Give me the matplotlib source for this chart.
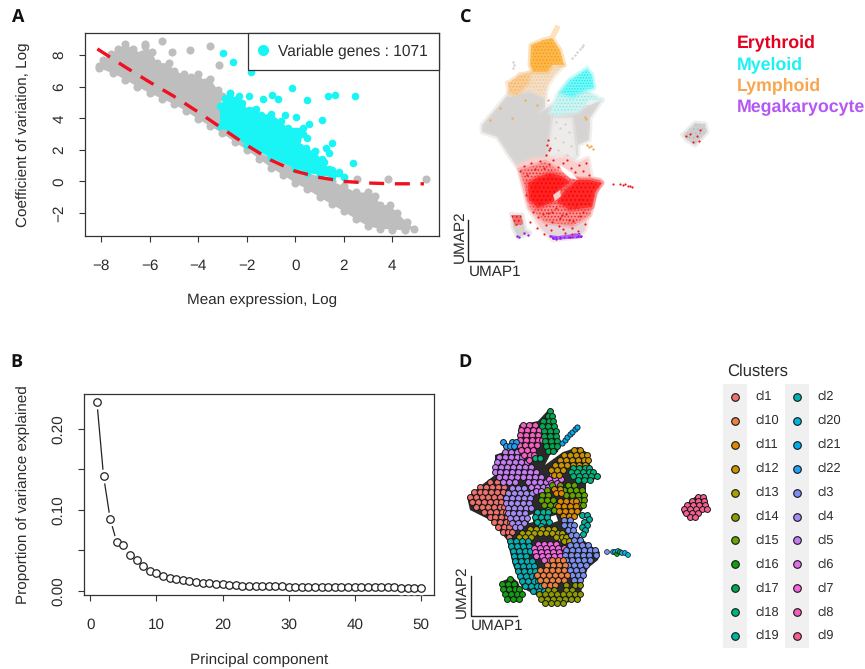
import matplotlib
matplotlib.use('Agg')
import matplotlib.pyplot as plt
from matplotlib.lines import Line2D

plt.rcParams['font.family'] = ['Liberation Sans', 'DejaVu Sans']
plt.rcParams['hatch.linewidth'] = 0.7
plt.rcParams['text.hinting'] = 'none'

W, H = 865, 669
TXT = '#2b2b2b'

# panel A, mean expression vs coefficient of variation
gray_outline_x = [-8.1, -7.9, -7.6, -7.3, -7.0, -6.7, -6.3, -6.2, -5.9, -5.7, -5.2, -5.0, -4.6, -4.3, -4.0, -3.7, -3.5,
                  -3.2, -3.0, -3.1, -2.0, -1.0, 0.0, 1.0, 1.5, 2.0, 2.5, 3.0, 3.3, 3.5, 3.9, 4.2, 4.6, 4.9,
                  4.5, 4.0, 3.5, 3.0, 2.5, 2.0, 1.5, 1.0, 0.5, 0.0, -0.5, -1.0, -1.5, -2.0, -2.5, -3.0, -3.5, -4.0,
                  -4.5, -5.0, -5.5, -6.0, -6.5, -7.0, -7.5, -8.1]
gray_outline_y = [7.3, 7.7, 8.1, 8.4, 8.7, 8.4, 8.1, 8.6, 8.2, 7.5, 7.5, 7.0, 6.8, 6.6, 6.8, 6.3, 6.5,
                  5.8, 5.4, 4.5, 2.2, 1.5, 0.8, 0.3, 0.0, -0.3, -0.7, -0.7, -0.9, -1.5, -1.5, -2.0, -2.6, -3.0,
                  -3.1, -3.05, -3.0, -2.85, -2.4, -1.9, -1.45, -1.0, -0.5, -0.1, 0.4, 0.87, 1.45, 2.0, 2.5, 3.05, 3.5, 3.95,
                  4.45, 4.9, 5.25, 5.6, 6.0, 6.45, 6.85, 7.2]
gray_extra_x = [-6.2, -5.47, -5.07, -4.33, -3.51, -3.15, 2.55, 3.8, 5.37]
gray_extra_y = [8.7, 8.93, 8.23, 8.34, 8.59, 7.38, 0.14, 0.15, 0.15]
cyan_outline_x = [-3.1, -3.1, -2.9, -2.7, -2.4, -2.2, -1.9, -1.6, -1.4, -1.0, -0.6, -0.3, 0.3, 0.3, 0.2, 0.8, 1.2, 1.4,
                  1.8, 2.0, 1.5, 1.0, 0.5, 0.0, -1.0, -2.0]
cyan_outline_y = [3.5, 4.8, 5.3, 5.6, 5.2, 5.0, 4.5, 4.6, 4.2, 4.3, 3.8, 3.4, 3.4, 3.0, 2.2, 1.9, 1.2, 0.8,
                  0.6, 0.3, 0.25, 0.4, 0.55, 0.8, 1.5, 2.3]
cyan_extra_x = [-2.99, -2.56, -1.82, -0.15, 0.5, 1.33, 1.63, 2.46, -1.92, -1.34, -0.94, -0.7, -0.42, 0.03, 1.1, 0.55,
                0.5, 0.2, 1.5, 1.4, 1.27, 2.37, 2.0, 1.75, 1.5, 0.8, 0.45, 1.1, -1.7, -2.3, -2.7, -2.25]
cyan_extra_y = [8.13, 7.55, 6.96, 5.93, 5.17, 5.44, 5.5, 5.4, 5.44, 5.2, 5.45, 5.2, 4.2, 4.07, 3.88, 3.65,
                2.75, 3.05, 2.46, 1.82, 2.1, 1.17, 0.3, 0.55, 0.7, 1.95, 2.1, 1.4, 4.5, 5.4, 5.6, 5.0]
trend_x = [-8.15, -7, -6, -5, -4, -3, -2, -1, 0, 1, 2, 3, 4, 5.3]
trend_y = [8.4, 7.25, 6.3, 5.4, 4.4, 3.35, 2.3, 1.35, 0.65, 0.25, 0.0, -0.1, -0.15, -0.15]

# panel B, elbow plot
pc_values = [0.2335, 0.142, 0.089, 0.060, 0.0565, 0.0437, 0.0375, 0.0305, 0.0248, 0.0215,
             0.018, 0.0157, 0.014, 0.0128, 0.0116, 0.0107, 0.0099, 0.0091, 0.0083, 0.0078,
             0.0072, 0.0066, 0.0064, 0.0062, 0.006, 0.0058, 0.0056, 0.0054, 0.0052, 0.005,
             0.0049, 0.0048, 0.0047, 0.0046, 0.0045, 0.0045, 0.0044, 0.0044, 0.0043, 0.0043,
             0.0042, 0.0042, 0.0041, 0.0041, 0.004, 0.004, 0.0039, 0.0039, 0.0038, 0.0038]

# panel C, regions of the embedding (picture coordinates)
c_gray = [(509, 93), (530, 88), (545, 95), (545, 108), (540, 112), (552, 105), (590, 105), (602, 100), (590, 118),
          (590, 128), (589, 140), (578, 145), (578, 155), (572, 158), (560, 150), (548, 160), (530, 168), (518, 168),
          (510, 157), (497, 137), (482, 132), (482, 125), (495, 110)]
c_sparse = [(553, 118), (572, 118), (576, 150), (576, 160), (560, 155), (548, 160), (550, 140)]
c_orange_top = [(557, 28), (552, 38), (560, 50), (564, 65), (553, 65), (547, 72), (533, 72), (530, 65), (531, 45),
                (543, 40), (552, 38)]
c_orange_mid = [(520, 75), (547, 68), (564, 65), (555, 75), (548, 85), (545, 97), (530, 90), (509, 95)]
c_orange_low = [(508, 83), (520, 75), (530, 73), (528, 83), (517, 95), (509, 92)]
c_cyan_soft = [(602, 100), (590, 100), (578, 112), (557, 115), (550, 113), (557, 95), (570, 80)]
c_cyan = [(587, 69), (592, 75), (594, 88), (586, 90), (572, 97), (560, 93), (570, 80), (582, 72)]
c_red_soft = [(518, 165), (533, 158), (557, 158), (565, 157), (577, 163), (588, 158), (590, 170), (592, 178),
              (602, 182), (597, 190), (593, 200), (587, 220), (585, 230), (578, 237), (553, 240), (540, 227),
              (528, 207), (522, 183)]
c_red_mid = [(520, 170), (545, 162), (572, 178), (600, 180), (595, 195), (590, 215), (572, 226), (545, 222), (530, 208)]
c_red_a = [(528, 183), (538, 177), (550, 173), (561, 176), (570, 182), (560, 190), (553, 202), (538, 208), (529, 200)]
c_red_b = [(577, 180), (590, 180), (602, 183), (595, 192), (592, 207), (570, 210), (557, 202), (565, 190)]
c_white_hole = [(560, 165), (572, 173), (578, 180), (570, 178), (562, 171)]
c_white_hole2 = [(553, 195), (560, 190), (561, 196), (555, 201)]
c_pale_bottom = [(540, 227), (560, 222), (585, 222), (585, 230), (578, 237), (553, 240)]
c_purple = [(550, 235), (558, 236), (580, 233), (582, 238), (553, 240)]
c_island_low = [(512, 215), (522, 215), (525, 230), (530, 233), (518, 237), (513, 227)]
c_island_red = [(511, 215), (521, 215), (523, 224), (515, 226)]
c_island_right = [(683, 135), (695, 123), (705, 124), (707, 132), (695, 145), (687, 140)]
c_red_dots_x = [613, 620, 623, 625, 628, 630, 632, 548, 547, 549, 546, 550, 690, 697, 700, 693, 699, 686,
                520, 524, 527, 531, 535, 540, 544, 549, 553, 558, 563, 567, 571, 575, 579, 583, 586, 589,
                526, 533, 538, 546, 552, 560, 566, 573, 580, 585, 530, 537, 543, 551, 559, 565, 572, 578, 583,
                535, 541, 548, 556, 562, 569, 576, 581, 544, 552, 563, 572]
c_red_dots_y = [184, 184, 185, 184, 186, 186, 187, 140, 145, 150, 155, 148, 134, 136, 130, 142, 141, 136,
                171, 166, 175, 163, 169, 161, 168, 164, 160, 167, 163, 160, 168, 172, 165, 171, 163, 175,
                195, 212, 217, 225, 212, 218, 214, 221, 216, 224, 222, 228, 214, 230, 226, 233, 228, 231, 212,
                186, 203, 213, 208, 215, 220, 206, 199, 234, 222, 229, 234]
c_gray_dots_x = [572, 575, 577, 580, 582, 583, 513, 514, 513, 556, 560, 565, 569, 555, 563, 571, 558, 567]
c_gray_dots_y = [58, 55, 52, 49, 47, 45, 62, 65, 68, 122, 128, 124, 132, 138, 142, 146, 150, 155]
c_orange_dots_x = [587, 589, 591, 593, 585, 586, 490, 500, 512, 525, 537, 548]
c_orange_dots_y = [145, 147, 146, 149, 117, 119, 120, 108, 118, 100, 105, 100]
c_purple_dots_x = [517, 519, 524, 528, 550, 553, 556, 560, 570, 578, 581]
c_purple_dots_y = [236, 237, 233, 235, 236, 238, 239, 238, 237, 236, 236]
lineage_names = ['Erythroid', 'Myeloid', 'Lymphoid', 'Megakaryocyte']
lineage_colors = ['#E4001E', '#1DF2F2', '#F9A650', '#B458F5']

# panel D, clusters
cluster_names = ['cl1', 'cl10', 'cl11', 'cl12', 'cl13', 'cl14', 'cl15', 'cl16', 'cl17', 'cl18', 'cl19',
                 'cl2', 'cl20', 'cl21', 'cl22', 'cl3', 'cl4', 'cl5', 'cl6', 'cl7', 'cl8', 'cl9']
cluster_colors = ['#F0706A', '#EE8042', '#DD8A00', '#CC9500', '#AAA000', '#8F9B00', '#64A500', '#10A010', '#00A850',
                  '#00B57A', '#00B5A0', '#00B0B5', '#00B8DC', '#00ACF0', '#20A0F8', '#7B8FF0', '#A58AF5', '#C77CF5',
                  '#E36EF0', '#F564E3', '#F55FC0', '#F5608F']
d_silhouette = [(550, 408), (553, 420), (560, 440), (558, 452), (550, 455), (545, 465), (563, 452), (578, 447), (588, 453),
                (590, 465), (598, 478), (586, 483), (586, 505), (578, 516), (572, 518), (575, 533), (587, 543), (600, 552),
                (598, 560), (588, 568), (583, 582), (580, 600), (550, 606), (538, 596), (522, 588), (513, 565), (507, 540),
                (490, 520), (470, 510), (467, 497), (483, 484), (495, 475), (495, 455), (517, 447), (519, 425), (538, 421)]
d_island = [(683, 507), (697, 495), (707, 498), (708, 507), (698, 515), (690, 520), (682, 513)]
d_left = [(500, 582), (512, 577), (518, 582), (523, 595), (517, 602), (505, 598)]
d_holes = [[(549, 517), (556, 515), (558, 521), (552, 523)], [(528, 516), (533, 514), (533, 522), (529, 523)],
           [(556, 538), (562, 537), (560, 541)]]
# dots of each cluster, as rows: y, then the x of the dots on that row
cluster_rows = {
    'cl1': [(482, [490, 497]), (487, [480, 486, 492, 498, 504]), (492, [474, 480, 485, 491, 497, 503]),
            (497, [470, 476, 482, 488, 494, 500]), (502, [472, 478, 484, 490, 496, 501]),
            (507, [476, 482, 488, 494, 500, 504]), (512, [484, 490, 496, 502, 506]), (517, [490, 495, 501, 507]),
            (522, [494, 500, 506, 510]), (527, [498, 504, 509]), (532, [503, 508, 512]), (537, [509])],
    'cl4': [(488, [512, 518, 524]), (493, [508, 514, 520, 526, 532]), (498, [506, 512, 518, 524, 530]),
            (503, [506, 511, 517, 523, 529]), (508, [508, 514, 520, 526, 531]), (513, [508, 513, 519, 525]),
            (518, [510, 516, 522, 527]), (523, [512, 518, 524]), (527, [515, 520])],
    'cl5': [(452, [505, 511, 517]), (457, [499, 505, 511, 517, 522]), (462, [497, 503, 509, 515, 521, 527]),
            (467, [495, 501, 507, 513, 519, 525, 531]), (472, [495, 500, 506, 512, 518, 524, 530, 536]),
            (477, [499, 505, 511, 517, 523, 529, 535, 541]), (482, [503, 509, 515, 528, 534, 540, 546]),
            (487, [531, 537, 543, 548]), (491, [536, 541])],
    'cl6': [(475, [552, 558]), (479, [549, 555, 561]), (483, [551, 557])],
    'cl8': [(425, [523, 529, 535]), (430, [521, 527, 533, 539]), (435, [520, 526, 532, 538]),
            (440, [520, 526, 532, 538, 542]), (445, [519, 525, 531, 537]), (450, [521, 527, 533]),
            (455, [524, 530, 534]), (460, [529])],
    'cl17': [(411, [550]), (416, [548, 552]), (421, [543, 549, 553]), (426, [542, 548, 554]), (431, [544, 550, 556]),
             (436, [544, 550, 556]), (441, [545, 551, 557]), (446, [546, 552, 557]), (451, [548, 553])],
    'cl22': [(442, [503, 512, 516]), (446, [506, 510, 514])],
    'cl12': [(450, [574, 580]), (455, [564, 570, 576, 582, 587]), (460, [560, 566, 572, 578, 584, 588]),
             (465, [555, 561, 567, 573, 579, 585]), (470, [551, 557, 563]), (475, [554, 559])],
    'cl18': [(468, [573, 579, 585, 589]), (472, [571, 577, 583, 589, 593]), (476, [573, 579, 585, 591, 597]),
             (480, [578, 584, 590]), (458, [535, 540])],
    'cl15': [(485, [552, 560, 568, 574]), (490, [547, 564, 570, 576, 582]), (495, [542, 548, 566, 572, 578, 584]),
             (500, [541, 547, 553, 579, 584]), (505, [544, 550, 556, 580, 583]), (510, [548, 554, 577])],
    'cl11': [(501, [560, 566, 572, 576]), (506, [558, 564, 570, 576]), (511, [559, 565, 571, 577]),
             (516, [563, 569, 574]), (489, [554, 560]), (493, [556, 561])],
    'cl19': [(512, [537, 543, 548]), (517, [535, 541, 547]), (522, [537, 543, 549]), (526, [541]), (515, [582, 587]),
             (519, [589]), (522, [584]), (525, [587]), (527, [582]), (530, [585]), (534, [583])],
    'cl13': [(529, [530, 536, 542, 548, 554]), (533, [522, 528, 534, 540, 546, 552, 558, 562]),
             (537, [519, 525, 531, 556, 562, 566]), (541, [564, 569])],
    'cl2': [(541, [510, 516, 522, 528]), (546, [511, 517, 523, 529]), (551, [513, 519, 525, 530]), (556, [514, 520, 526]),
            (561, [515, 521, 527, 532]), (566, [517, 523, 529, 534]), (571, [518, 524, 530, 535]),
            (576, [520, 526, 532, 536]), (581, [522, 528, 534, 538]), (586, [525, 531, 537, 541]), (591, [533, 539, 544])],
    'cl7': [(544, [538, 544, 550, 556]), (548, [534, 540, 546, 552, 558, 564]), (552, [535, 541, 547, 553, 559, 565]),
            (556, [536, 542, 548, 554, 560]), (560, [544, 550])],
    'cl3': [(520, [564, 570]), (525, [564, 570, 574]), (530, [568, 573]), (535, [571, 576]), (540, [574, 580]),
            (545, [570, 576, 582, 588]), (550, [566, 572, 578, 584, 590, 595]), (555, [565, 571, 577, 583, 589, 596]),
            (560, [566, 572, 578, 584, 590]), (565, [568, 574, 580, 586]), (570, [570, 576, 582]), (575, [572, 578, 583]),
            (580, [574, 580])],
    'cl10': [(560, [552, 558, 563]), (565, [547, 553, 559, 565]), (570, [540, 546, 552, 558, 564]),
             (575, [537, 543, 549, 555, 561, 567]), (580, [540, 546, 552, 558, 564]), (585, [544, 550, 555])],
    'cl14': [(585, [566, 575, 580]), (590, [548, 554, 566, 572]), (594, [539, 545, 551, 557, 563, 569, 575, 580]),
             (599, [541, 547, 553, 559, 565, 571, 577]), (603, [545, 551, 557, 563])],
    'cl16': [(579, [510]), (584, [502, 508, 514]), (589, [503, 509, 515, 519]), (594, [505, 511, 517, 522]),
             (599, [507, 513, 519])],
    'cl9': [(497, [698, 703]), (501, [692, 698, 704]), (505, [687, 693, 699, 705]), (509, [684, 690, 696, 702, 707]),
            (513, [686, 692, 698]), (517, [690, 695])],
}
cl21_x = [562, 565, 567, 570, 572, 575, 577]
cl21_y = [443, 440, 437, 434, 432, 429, 427]
tail_x = [607, 613, 615, 617, 618, 620, 622, 625, 628]
tail_y = [552, 552, 552, 554, 551, 552, 553, 553, 555]
tail_names = ['cl3', 'cl20', 'cl21', 'cl16', 'cl21', 'cl16', 'cl20', 'cl21', 'cl20']


def px_axes(fig, left, top, right, bottom):
    return fig.add_axes([left / W, 1 - bottom / H, (right - left) / W, (bottom - top) / H])


def r_style(ax):
    for s in ax.spines.values():
        s.set_color('#333333')
        s.set_linewidth(0.9)
    ax.tick_params(axis='x', length=4.3, width=0.8, color='#333333', labelcolor=TXT, labelsize=11, pad=12)
    ax.tick_params(axis='y', length=4.3, width=0.8, color='#333333', labelcolor=TXT, labelsize=11, pad=9)
    for t in ax.get_yticklabels():
        t.set_rotation(90)
        t.set_va('center')


def region(ax, pts, color, hatch=None, edge='none', zorder=2, soft=None):
    xs = [p[0] for p in pts]
    ys = [p[1] for p in pts]
    ax.fill(xs, ys, facecolor=color, hatch=hatch, edgecolor=edge, linewidth=0, zorder=zorder)
    # fuzzy rim so the cloud does not end on a hard edge
    if soft:
        ax.plot(xs + xs[:1], ys + ys[:1], color=soft, lw=3.5, alpha=0.45, zorder=zorder, solid_joinstyle='round')


fig = plt.figure(figsize=(W / 100, H / 100), dpi=100)

# full figure layer in picture coordinates for the two embeddings
bg = fig.add_axes([0, 0, 1, 1])
bg.set_xlim(0, W)
bg.set_ylim(H, 0)
bg.axis('off')

# A
ax = px_axes(fig, 85, 33, 439, 236)
ax.set_xlim(-8.66, 5.92)
ax.set_ylim(-3.46, 9.41)
ax.fill(gray_outline_x, gray_outline_y, color='#BEBEBE', zorder=1, linewidth=0)
ax.scatter(gray_outline_x + gray_extra_x, gray_outline_y + gray_extra_y, s=34, color='#BEBEBE', linewidths=0, zorder=1)
ax.fill(cyan_outline_x, cyan_outline_y, color='#19F5F5', zorder=2, linewidth=0)
ax.scatter(cyan_outline_x + cyan_extra_x, cyan_outline_y + cyan_extra_y, s=30, color='#19F5F5', linewidths=0, zorder=2)
ax.plot(trend_x, trend_y, color='#F01020', lw=2.4, dashes=(4.5, 3.2), zorder=3)
ax.set_xticks([-8, -6, -4, -2, 0, 2, 4])
ax.set_yticks([-2, 0, 2, 4, 6, 8])
r_style(ax)
ax.set_xlabel('Mean expression, Log', fontsize=11, color=TXT, labelpad=15)
ax.set_ylabel('Coefficient of variation, Log', fontsize=11, color=TXT, labelpad=16)
handle = Line2D([], [], marker='o', ls='none', color='#19F5F5', ms=7)
leg = ax.legend([handle], ['Variable genes : 1071'], loc='upper right', fontsize=11.2, frameon=True, fancybox=False,
                framealpha=1, edgecolor='#333333', borderaxespad=0, borderpad=0.72, handlelength=0.5, handletextpad=0.7,
                labelcolor=TXT)
leg.get_frame().set_linewidth(0.9)
leg.set_zorder(5)

# B
ax = px_axes(fig, 84.3, 394, 434, 595.3)
ax.set_xlim(-0.91, 52.0)
ax.set_ylim(-0.0057, 0.2434)
components = list(range(1, len(pc_values) + 1))
ax.plot(components, pc_values, color='#222222', lw=0.9, zorder=2)
ax.plot(components, pc_values, ls='none', marker='o', ms=10, mfc='white', mec='none', zorder=3)
ax.plot(components, pc_values, ls='none', marker='o', ms=5.4, mfc='white', mec='#222222', mew=0.9, zorder=4)
ax.set_xticks([0, 10, 20, 30, 40, 50])
ax.set_yticks([0, 0.05, 0.10, 0.15, 0.20])
ax.set_yticklabels(['0.00', '', '0.10', '', '0.20'])
r_style(ax)
ax.set_xlabel('Principal component', fontsize=11, color=TXT, labelpad=15)
ax.set_ylabel('Proportion of variance explained', fontsize=11, color=TXT, labelpad=16)

# C
region(bg, c_gray, '#D6D4D2', zorder=1, soft='#DEDCDA')
region(bg, c_sparse, '#EEECEA', zorder=1.2, soft='#E8E6E4')
region(bg, c_orange_mid, '#F2DFC8', hatch='.....', edge='#F9C58A', zorder=1.3, soft='#F4E2CC')
region(bg, c_orange_low, '#F8CF9A', hatch='.....', edge='#F9A950', zorder=1.5, soft='#F9C890')
region(bg, c_orange_top, '#FBB850', hatch='.....', edge='#FF9A00', zorder=1.5, soft='#FBC068')
region(bg, c_cyan_soft, '#D2F2F0', hatch='.....', edge='#7BEFEF', zorder=1.5, soft='#D2F2F0')
region(bg, c_cyan, '#7FF7F7', hatch='......', edge='#00F2F2', zorder=1.6, soft='#7FF7F7')
region(bg, c_red_soft, '#F8CFCC', zorder=1.5, soft='#F8CFCC')
region(bg, c_pale_bottom, '#E6D6DC', zorder=1.6)
region(bg, c_red_mid, '#F89090', hatch='.....', edge='#F62020', zorder=1.65, soft='#F89090')
region(bg, c_red_a, '#FF2020', hatch='....', edge='#F80000', zorder=1.7, soft='#FF4040')
region(bg, c_red_b, '#FF2828', hatch='....', edge='#F80000', zorder=1.7, soft='#FF4040')
region(bg, c_white_hole, 'white', zorder=1.8)
region(bg, c_white_hole2, '#F8CFCC', zorder=1.8)
region(bg, c_purple, '#B060F5', hatch='....', edge='#8A20F0', zorder=1.8)
region(bg, c_island_low, '#D8CFCF', zorder=1.5, soft='#D8CFCF')
region(bg, c_island_red, '#F07070', hatch='....', edge='#F01010', zorder=1.6)
region(bg, c_island_right, '#CFCDCD', hatch='....', edge='#B8B8B8', zorder=1.5, soft='#D8D6D6')
bg.scatter(c_red_dots_x, c_red_dots_y, s=2.5, color='#F01818', linewidths=0, zorder=2)
bg.scatter(c_gray_dots_x, c_gray_dots_y, s=3, color='#D8CFC8', linewidths=0, zorder=2)
bg.scatter(c_orange_dots_x, c_orange_dots_y, s=3, color='#F9A950', linewidths=0, zorder=2)
bg.scatter(c_purple_dots_x, c_purple_dots_y, s=3, color='#8A20F0', linewidths=0, zorder=2)

bg.plot([468, 468, 514], [220, 261, 261], color='#222222', lw=1)
bg.text(460, 237, 'UMAP2', rotation=90, ha='center', va='center', fontsize=11, color=TXT)
bg.text(495, 272, 'UMAP1', ha='center', va='center', fontsize=11, color=TXT)
for i, name in enumerate(lineage_names):
    bg.text(737, 43 + i * 21.3, name, color=lineage_colors[i], fontsize=12.8, fontweight='bold', va='center')

# D
region(bg, d_silhouette, '#2a2a2a', zorder=2.5)
region(bg, d_island, '#2a2a2a', zorder=2.5)
region(bg, d_left, '#2a2a2a', zorder=2.5)
for hole in d_holes:
    region(bg, hole, 'white', zorder=2.6)
for name, rows in cluster_rows.items():
    xs = [x for y, row in rows for x in row]
    ys = [y for y, row in rows for x in row]
    c = cluster_colors[cluster_names.index(name)]
    bg.scatter(xs, ys, s=18, color=c, edgecolors='#181818', linewidths=0.7, zorder=3)
bg.scatter(cl21_x, cl21_y, s=14, color=cluster_colors[13], edgecolors='#151515', linewidths=0.6, zorder=5.3)
tail_colors = [cluster_colors[cluster_names.index(n)] for n in tail_names]
bg.scatter(tail_x, tail_y, s=12, c=tail_colors, edgecolors='#151515', linewidths=0.5, zorder=5.3)

bg.plot([471, 471, 517], [576, 616, 616], color='#222222', lw=1)
bg.text(462, 592, 'UMAP2', rotation=90, ha='center', va='center', fontsize=11, color=TXT)
bg.text(497, 626, 'UMAP1', ha='center', va='center', fontsize=11, color=TXT)

# cluster key
bg.text(727, 371, 'Clusters', fontsize=12, color=TXT, va='center')
bg.fill([723, 747, 747, 723], [384, 384, 648, 648], color='#F0F0F0', linewidth=0, zorder=1)
bg.fill([785, 809, 809, 785], [384, 384, 648, 648], color='#F0F0F0', linewidth=0, zorder=1)
for i, name in enumerate(cluster_names):
    col = i // 11
    row = i % 11
    kx = 735 + col * 62
    ky = 397 + row * 23.9
    bg.scatter([kx], [ky], s=30, color=cluster_colors[i], edgecolors='#151515', linewidths=0.8, zorder=2)
    bg.text(kx + 20, ky, name, fontsize=9.3, color=TXT, va='center')

# panel letters
for letter, lx, ly in [('A', 18, 17), ('B', 16, 362), ('C', 466, 17), ('D', 465, 362)]:
    bg.text(lx, ly, letter, fontsize=13, fontweight='bold', family=['Open Sans', 'DejaVu Sans'], color='#111111',
            ha='center', va='center')

fig.savefig('out.png', dpi=100)
